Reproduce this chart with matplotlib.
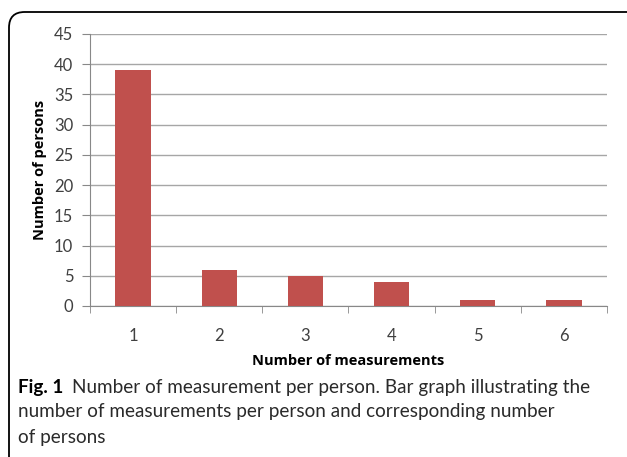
import matplotlib.pyplot as plt
from matplotlib.patches import FancyBboxPatch

measurements = ["1", "2", "3", "4", "5", "6"]
persons = [39, 6, 5, 4, 1, 1]
yticks = [0, 5, 10, 15, 20, 25, 30, 35, 40, 45]

fig = plt.figure(figsize=(6.27, 4.57), dpi=100)

# rounded frame around the figure panel
frame = FancyBboxPatch((9/627, -0.2), 1.2, 0.2 + (457-12)/457,
                       boxstyle="round,pad=0,rounding_size=0.025",
                       transform=fig.transFigure, facecolor="none",
                       edgecolor="black", linewidth=1.3, mutation_aspect=627/457)
fig.patches.append(frame)

ax = fig.add_axes([90/627, 151/457, 517/627, 272/457])
x = list(range(len(measurements)))
ax.bar(x, persons, width=0.41, color="#c0504d", zorder=3)

ax.set_xlim(-0.5, len(measurements) - 0.5)
ax.set_ylim(0, 45)
ax.set_yticks(yticks)
ax.set_xticks(x)
ax.set_xticklabels(measurements)
ax.set_xticks([i - 0.5 for i in range(len(measurements) + 1)], minor=True)
ax.tick_params(axis="x", which="major", length=0, pad=16, labelsize=12, labelcolor="#404040")
ax.tick_params(axis="x", which="minor", length=5, color="#888888", direction="out")
ax.tick_params(axis="y", length=6, color="#888888", labelsize=12, labelcolor="#404040", pad=6)
ax.yaxis.grid(True, color="#a6a6a6", linewidth=1.0, zorder=0)
for s in ["top", "right"]:
    ax.spines[s].set_visible(False)
ax.spines["left"].set_color("#888888")
ax.spines["bottom"].set_color("#888888")

for lab in ax.get_xticklabels() + ax.get_yticklabels():
    lab.set_family("Lato")

ax.set_xlabel("Number of measurements", fontsize=10.5, fontweight="bold",
              family="Open Sans", labelpad=7)
ax.set_ylabel("Number of persons", fontsize=10.5, fontweight="bold",
              family="Open Sans", labelpad=5)

cap = "Lato"
fig.text(18/627, 1 - 387/457, "Fig. 1", fontsize=13.6, fontweight="bold",
         family=cap, va="center")
fig.text(72/627, 1 - 387/457, "Number of measurement per person. Bar graph illustrating the",
         fontsize=13.6, family=cap, va="center", color="#2a2a2a")
fig.text(18/627, 1 - 412/457, "number of measurements per person and corresponding number",
         fontsize=13.6, family=cap, va="center", color="#2a2a2a")
fig.text(18/627, 1 - 437/457, "of persons",
         fontsize=13.6, family=cap, va="center", color="#2a2a2a")

fig.savefig("out.png", dpi=100)
